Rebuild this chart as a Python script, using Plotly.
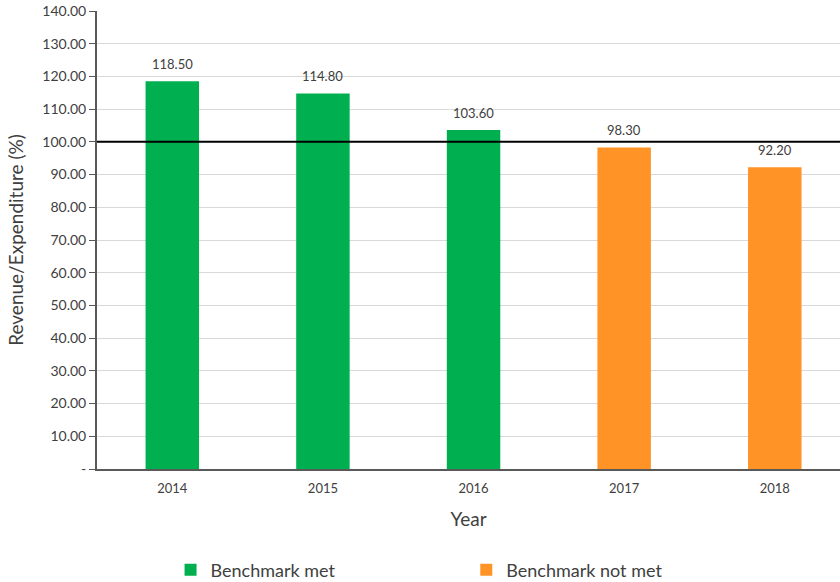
import plotly.graph_objects as go

years = ["2014", "2015", "2016", "2017", "2018"]
met_years = ["2014", "2015", "2016"]
met_values = [118.50, 114.80, 103.60]
notmet_years = ["2017", "2018"]
notmet_values = [98.30, 92.20]
benchmark = 100
y_tickvals = [0, 10, 20, 30, 40, 50, 60, 70, 80, 90, 100, 110, 120, 130, 140]
y_ticktext = ["-"] + [f"{v:.2f}" for v in y_tickvals[1:]]

FONT = "Lato, 'Open Sans', sans-serif"
TXT = "#404040"

fig = go.Figure()
fig.add_trace(go.Bar(
    x=met_years, y=met_values, name="Benchmark met",
    marker=dict(color="#00B050", line=dict(width=0)),
    width=0.355, legend="legend",
))
fig.add_trace(go.Bar(
    x=notmet_years, y=notmet_values, name="Benchmark not met",
    marker=dict(color="#FF9326", line=dict(width=0)),
    width=0.355, legend="legend2",
))

for xs, vs in ((met_years, met_values), (notmet_years, notmet_values)):
    for xv, v in zip(xs, vs):
        fig.add_annotation(x=years.index(xv), y=v, xref="x", yref="y",
                           text=f"{v:.2f}", showarrow=False,
                           yanchor="bottom", yshift=7,
                           font=dict(size=13, color=TXT, family=FONT))

fig.add_shape(type="line", xref="paper", yref="y", x0=0, x1=1,
              y0=benchmark, y1=benchmark, line=dict(color="black", width=2))

leg_common = dict(orientation="h", yanchor="middle", y=-0.2205, xanchor="left",
                  font=dict(size=18, color=TXT, family=FONT),
                  bgcolor="rgba(0,0,0,0)")

fig.update_layout(
    width=840, height=582,
    margin=dict(l=97, r=0, t=11, b=113, autoexpand=False),
    paper_bgcolor="white", plot_bgcolor="white",
    barmode="overlay",
    font=dict(family=FONT, color=TXT, size=13),
    showlegend=True,
    legend=dict(x=0.099, **leg_common),
    legend2=dict(x=0.497, **leg_common),
    xaxis=dict(
        type="category", categoryorder="array", categoryarray=years,
        range=[-0.5, 4.433], automargin=False,
        showline=True, linecolor="#595959", linewidth=2,
        ticks="", tickfont=dict(size=13, color=TXT), ticklabelstandoff=6,
        title=dict(text="Year", font=dict(size=19, color=TXT), standoff=18),
    ),
    yaxis=dict(
        range=[0, 140], tickvals=y_tickvals, ticktext=y_ticktext,
        automargin=False,
        showgrid=True, gridcolor="#D9D9D9", gridwidth=1,
        showline=True, linecolor="#595959", linewidth=2,
        ticks="outside", ticklen=6, tickcolor="#595959", tickwidth=1,
        tickfont=dict(size=14, color=TXT),
        title=dict(text="Revenue/Expenditure (%)", font=dict(size=19, color=TXT), standoff=14),
        zeroline=False,
    ),
)

fig.write_html("out.html")
